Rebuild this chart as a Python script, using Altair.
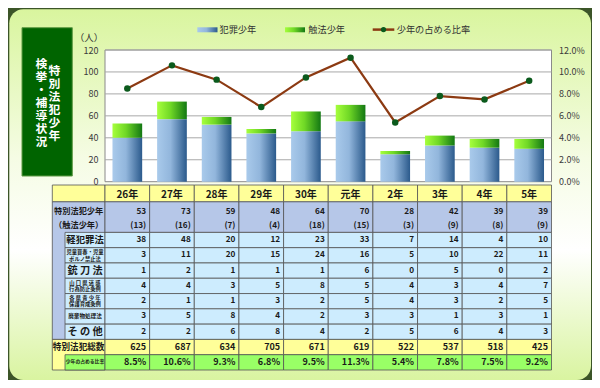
import altair as alt
import pandas as pd

# ---------------- data ----------------
years = ["26年", "27年", "28年", "29年", "30年", "元年", "2年", "3年", "4年", "5年"]
special_youth = [53, 73, 59, 48, 64, 70, 28, 42, 39, 39]      # 特別法犯少年
shokuho = [13, 16, 7, 4, 18, 15, 3, 9, 8, 9]                   # 触法少年
keihanzai = [38, 48, 20, 12, 23, 33, 7, 14, 4, 10]
jido = [3, 11, 20, 15, 24, 16, 5, 10, 22, 11]
juto = [1, 2, 1, 1, 1, 6, 0, 5, 0, 2]
meiwaku = [4, 4, 3, 5, 8, 5, 4, 3, 4, 7]
seishonen = [2, 1, 1, 3, 2, 5, 4, 3, 2, 5]
haiki = [3, 5, 8, 4, 2, 3, 3, 1, 3, 1]
sonota = [2, 2, 6, 8, 4, 2, 5, 6, 4, 3]
special_total = [625, 687, 634, 705, 671, 619, 522, 537, 518, 425]
ratio = [8.5, 10.6, 9.3, 6.8, 9.5, 11.3, 5.4, 7.8, 7.5, 9.2]

count_ticks = [0, 20, 40, 60, 80, 100, 120]
pct_ticks = [0, 2, 4, 6, 8, 10, 12]
grid_ticks = [20, 40, 60, 80, 100, 120]

series_names = ["犯罪少年", "触法少年", "少年の占める比率"]
title_right = "特別法犯少年"
title_left = "検挙・補導状況"
row_labels = [
    ["特別法犯少年"], ["（触法少年）"], ["軽犯罪法"], ["児童買春・児童", "ポルノ禁止法"],
    ["銃 刀 法"], ["山 口 県 迷 惑", "行為防止条例"], ["各 県 青 少 年", "保護育成条例"],
    ["廃棄物処理法"], ["そ の 他"], ["特別法犯総数"], ["少年の占める比率"],
]

# ---------------- layout / style ----------------
W, H = 584, 372
FONT = "Noto Sans CJK JP"
PX0, PX1 = 97.0, 543.5
PY0, PY1 = 173.7, 42.0
LX0, LX1 = -1.18, -0.895
YEL, PER, LBL, GRN = "#ffff99", "#b6c7e8", "#cdecfe", "#99ff66"
ROW_PX = 185.0 / 12.1
LAB_LH = 6.6

dummy = pd.DataFrame({"a": [0]})

def grad(stops, vertical=False):
    return alt.Gradient(
        gradient="linear", x1=0, y1=0,
        x2=0 if vertical else 1, y2=1 if vertical else 0,
        stops=[alt.GradientStop(offset=o, color=c) for o, c in stops],
    )

def deco_rect(x0, x1, y0, y1, **kw):
    return alt.Chart(dummy).mark_rect(**kw).encode(
        x=alt.value(x0), x2=alt.value(x1), y=alt.value(y0), y2=alt.value(y1))

def deco_text(txt, x, y, size, color="#333333", align="left", weight="normal", **kw):
    return alt.Chart(dummy).mark_text(
        text=txt, font=FONT, fontSize=size, color=color, align=align,
        baseline="middle", fontWeight=weight, **kw).encode(x=alt.value(x), y=alt.value(y))

def vertical_title(txt, x, yc, lh):
    chars = list(txt)
    first = yc - (len(chars) - 1) * lh / 2
    return deco_text(chars, x, first, 11.8, color="white", align="center",
                     weight="bold", lineHeight=lh)

blue_grad = grad([(0, "#a9caeb"), (0.45, "#92b6dc"), (1, "#2b5a8c")])
green_grad = grad([(0, "#a6ff3c"), (0.45, "#70d826"), (1, "#137813")])
panel_grad = grad([(0, "#d9f59e"), (0.4, "#f5fce4"), (0.65, "#ffffff"), (1, "#d9f4a0")], vertical=True)

# ---------------- decorations ----------------
panel = deco_rect(1.3, 583, 1.3, 372, fill=panel_grad, cornerRadius=14)
title_box = deco_rect(14, 64.3, 19.7, 168, fill="#006400", stroke="#5f9a45", strokeWidth=1)
title_r = vertical_title(title_right, 46.3, 95.5, 13.0)
title_l = vertical_title(title_left, 33.5, 94.8, 13.1)

leg_blue = deco_rect(189.3, 209.5, 19.3, 24.3, fill=blue_grad)
leg_green = deco_rect(277, 297, 19.3, 24.3, fill=green_grad)
leg_line = alt.Chart(dummy).mark_rule(color="#8c3a12", strokeWidth=2.5).encode(
    x=alt.value(364.7), x2=alt.value(386.3), y=alt.value(21.6))
leg_pt = alt.Chart(dummy).mark_point(filled=True, size=28, color="#0b5a1c", opacity=1).encode(
    x=alt.value(375.5), y=alt.value(21.6))
leg_t1 = deco_text(series_names[0], 211.5, 21.6, 9.2)
leg_t2 = deco_text(series_names[1], 300.3, 21.6, 9.2)
leg_t3 = deco_text(series_names[2], 388.7, 21.6, 9.2)
unit_t = deco_text("（人）", 81, 30, 9.5, align="center")

# ---------------- plot ----------------
xband = alt.Scale(domain=years, range=[PX0, PX1], paddingInner=0.335, paddingOuter=0.1675)
ycount = alt.Scale(domain=[0, 120], range=[PY0, PY1], nice=False, zero=True)
ypct = alt.Scale(domain=[0, 12], range=[PY0, PY1], nice=False, zero=True)

plot_bg = alt.Chart(pd.DataFrame({"lo": [0], "hi": [120]})).mark_rect(
    fill="white", stroke="#8a8a8a", strokeWidth=1).encode(
    x=alt.value(PX0), x2=alt.value(PX1),
    y=alt.Y("lo:Q", scale=ycount, axis=None), y2="hi:Q")

grid = alt.Chart(pd.DataFrame({"v": grid_ticks})).mark_rule(color="#a8a8a8", strokeWidth=1).encode(
    x=alt.value(PX0), x2=alt.value(PX1), y=alt.Y("v:Q", scale=ycount, axis=None))

bars_df = pd.DataFrame({
    "year": years,
    "crime": [t - s for t, s in zip(special_youth, shokuho)],
    "total": special_youth,
    "ratio": ratio,
})

bar_blue = alt.Chart(bars_df).mark_bar(fill=blue_grad).encode(
    x=alt.X("year:N", scale=xband, sort=years, axis=None),
    y=alt.Y("crime:Q", scale=ycount,
            axis=alt.Axis(orient="left", offset=-PX0, values=count_ticks, grid=False,
                          ticks=False, domain=False, labelPadding=7, labelFont=FONT,
                          labelFontSize=9, labelColor="#3a3a3a", title=None, zindex=2)))

bar_green = alt.Chart(bars_df).mark_bar(fill=green_grad).encode(
    x=alt.X("year:N", scale=xband, sort=years, axis=None),
    y=alt.Y("crime:Q", scale=ycount, axis=None), y2="total:Q")

line = alt.Chart(bars_df).mark_line(color="#8c3a12", strokeWidth=2.2).encode(
    x=alt.X("year:N", scale=xband, sort=years, axis=None),
    y=alt.Y("ratio:Q", scale=ypct,
            axis=alt.Axis(orient="right", offset=-(W - PX1), values=pct_ticks,
                          grid=False, ticks=False, domain=False, labelPadding=7,
                          labelFont=FONT, labelFontSize=9, labelColor="#3a3a3a",
                          labelExpr="format(datum.value, '.1f') + '%'", title=None,
                          zindex=2)))

points = alt.Chart(bars_df).mark_point(filled=True, size=42, color="#0b5a1c", opacity=1).encode(
    x=alt.X("year:N", scale=xband, sort=years, axis=None),
    y=alt.Y("ratio:Q", scale=ypct, axis=None))

# ---------------- table ----------------
tx = alt.Scale(domain=[LX0, 10], range=[44.3, PX1], nice=False, zero=False)
ty = alt.Scale(domain=[-1.1, 11], range=[177, 362], nice=False, zero=False)

cells = []
def add(x0, x1, y0, y1, fill):
    cells.append(dict(x0=x0, x1=x1, y0=y0, y1=y1, fill=fill))

add(LX0, 0, -1.1, 0, YEL)
add(LX0, 0, 0, 9, PER)
for r in range(2, 9):
    add(LX1, 0, r, r + 1, LBL)
add(LX0, 0, 9, 11, YEL)
add(LX1, 0, 10, 11, GRN)
for i in range(len(years)):
    add(i, i + 1, -1.1, 0, YEL)
    add(i, i + 1, 0, 2, PER)
    for r in range(2, 9):
        add(i, i + 1, r, r + 1, LBL)
    add(i, i + 1, 9, 10, YEL)
    add(i, i + 1, 10, 11, GRN)
cells_df = pd.DataFrame(cells)
cells_df["order"] = range(len(cells_df))

table_cells = alt.Chart(cells_df).mark_rect(stroke="#545454", strokeWidth=0.8).encode(
    x=alt.X("x0:Q", scale=tx, axis=None), x2="x1:Q",
    y=alt.Y("y0:Q", scale=ty, axis=None), y2="y1:Q",
    fill=alt.Fill("fill:N", scale=None),
    order="order:Q")

header_df = pd.DataFrame({"xc": [i + 0.5 for i in range(len(years))], "yc": [-0.45] * len(years),
                          "txt": years})
header_text = alt.Chart(header_df).mark_text(
    font=FONT, fontSize=10, fontWeight="bold", color="#1a1a1a", align="center", baseline="middle").encode(
    x=alt.X("xc:Q", scale=tx, axis=None), y=alt.Y("yc:Q", scale=ty, axis=None), text="txt:N")

row_values = [
    [str(v) for v in special_youth],
    [f"({v})" for v in shokuho],
    [str(v) for v in keihanzai],
    [str(v) for v in jido],
    [str(v) for v in juto],
    [str(v) for v in meiwaku],
    [str(v) for v in seishonen],
    [str(v) for v in haiki],
    [str(v) for v in sonota],
    [str(v) for v in special_total],
    [f"{v:.1f}%" for v in ratio],
]
row_adj = [0.65, 0.58] + [0.5] * 9
vals = []
for r, vlist in enumerate(row_values):
    for i, v in enumerate(vlist):
        vals.append(dict(xr=i + 1, yc=r + row_adj[r], txt=v, fs=9 if r >= 9 else 8.2))
vals_df = pd.DataFrame(vals)
value_text = alt.Chart(vals_df).mark_text(
    font=FONT, fontWeight="bold", color="#1a1a1a", align="right", baseline="middle", dx=-3.5).encode(
    x=alt.X("xr:Q", scale=tx, axis=None), y=alt.Y("yc:Q", scale=ty, axis=None),
    text="txt:N", size=alt.Size("fs:Q", scale=None))

full_c = (LX0 + 0) / 2
sub_c = (LX1 + 0) / 2
lab_x = [full_c, full_c, sub_c, sub_c, sub_c, sub_c, sub_c, sub_c, sub_c, full_c, sub_c]
lab_fs = [8.2, 8.2, 9.4, 5.3, 10.2, 5.3, 5.3, 5.6, 10.2, 8.6, 4.8]
labs_df = pd.DataFrame({
    "xc": lab_x,
    "yc": [r + row_adj[r] - (len(lines) - 1) * (LAB_LH / ROW_PX) / 2
           for r, lines in enumerate(row_labels)],
    "txt": row_labels,
    "fs": lab_fs,
})
label_text = alt.Chart(labs_df).mark_text(
    font=FONT, fontWeight="bold", color="#1a1a1a", align="center", baseline="middle",
    lineHeight=LAB_LH).encode(
    x=alt.X("xc:Q", scale=tx, axis=None), y=alt.Y("yc:Q", scale=ty, axis=None),
    text="txt", size=alt.Size("fs:Q", scale=None))

chart = alt.layer(
    panel, title_box, title_r, title_l,
    leg_blue, leg_green, leg_line, leg_pt, leg_t1, leg_t2, leg_t3, unit_t,
    plot_bg, grid, bar_blue, bar_green, line, points,
    table_cells, header_text, value_text, label_text,
).resolve_scale(x="independent", y="independent").properties(
    width=W, height=H, autosize=alt.AutoSizeParams(type="none"), padding=0,
    background="#3c5528",
).configure_view(stroke=None)

chart.save("out.html", embed_options={"renderer": "svg", "actions": False})
